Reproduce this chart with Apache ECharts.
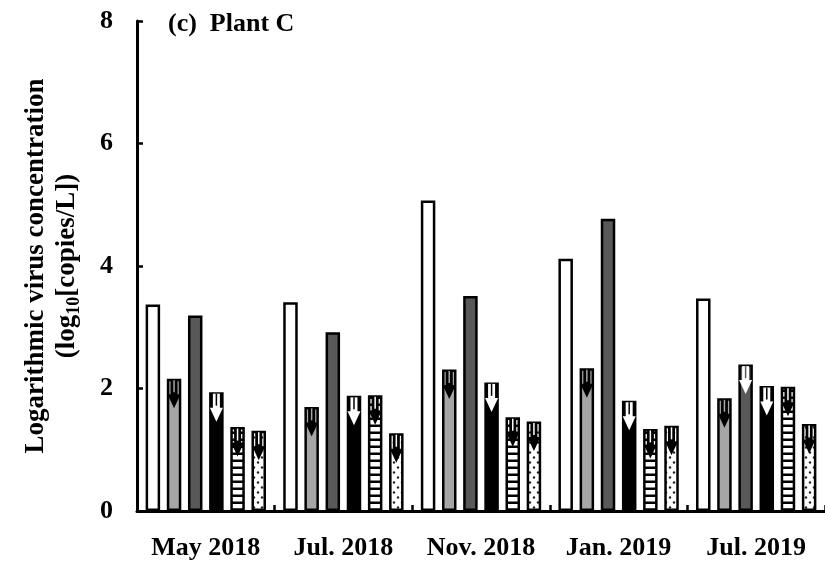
<!DOCTYPE html>
<html>
<head>
<meta charset="utf-8">
<script src="https://cdn.jsdelivr.net/npm/echarts@6/dist/echarts.min.js"></script>
<style>
  html, body { margin: 0; padding: 0; background: #fff; }
  #chart { width: 825px; height: 563px; }
</style>
</head>
<body>
<div id="chart"></div>
<script>
// Sampling campaigns
const categories = ['May 2018', 'Jul. 2018', 'Nov. 2018', 'Jan. 2019', 'Jul. 2019'];
const yTicks = [0, 2, 4, 6, 8];

// log10 virus concentration per bar fill
const openBars      = [3.37, 3.41, 5.07, 4.12, 3.47];
const lightGrayBars = [2.16, 1.70, 2.31, 2.33, 1.84];
const darkGrayBars  = [3.19, 2.92, 3.51, 4.77, 2.39];
const blackBars     = [1.94, 1.88, 2.10, 1.80, 2.04];
const stripedBars   = [1.37, 1.89, 1.53, 1.34, 2.03];
const dottedBars    = [1.31, 1.27, 1.46, 1.39, 1.42];

// 1 = below detection limit (bar shows the limit, marked with a down arrow)
const openLimit      = [0, 0, 0, 0, 0];
const lightGrayLimit = [1, 1, 1, 1, 1];
const darkGrayLimit  = [0, 0, 0, 0, 1];
const blackLimit     = [1, 1, 1, 1, 1];
const stripedLimit   = [1, 1, 1, 1, 1];
const dottedLimit    = [1, 1, 1, 1, 1];

const FONT = '"Liberation Serif", "Times New Roman", serif';
const BAR_W = 14.5;
const BAR_GAP = 0.46;
const PITCH = BAR_W * (1 + BAR_GAP);

function stripePattern() {
  const c = document.createElement('canvas');
  c.width = 8; c.height = 7;
  const g = c.getContext('2d');
  g.fillStyle = '#fff'; g.fillRect(0, 0, 8, 7);
  g.fillStyle = '#000'; g.fillRect(0, 4.5, 8, 2.5);
  return c;
}
function dotPattern() {
  const c = document.createElement('canvas');
  c.width = 8; c.height = 10;
  const g = c.getContext('2d');
  g.fillStyle = '#fff'; g.fillRect(0, 0, 8, 10);
  g.fillStyle = '#222';
  g.beginPath(); g.arc(2, 2.5, 1.2, 0, Math.PI * 2); g.fill();
  g.beginPath(); g.arc(6, 7.5, 1.2, 0, Math.PI * 2); g.fill();
  return c;
}

function barSeries(values, fill) {
  return {
    type: 'bar',
    data: values,
    barWidth: BAR_W,
    barGap: (BAR_GAP * 100) + '%',
    itemStyle: { color: fill, borderColor: '#000', borderWidth: 2.5 },
    emphasis: { disabled: true },
    z: 2
  };
}

// Down arrow drawn inside the top of a bar in the given slot of the group
function arrowSeries(values, flags, slot, color, inner) {
  return {
    type: 'custom',
    silent: true,
    z: 5,
    data: values.map((v, i) => flags[i] ? [i, v] : null).filter(Boolean),
    renderItem(params, api) {
      const p = api.coord([api.value(0), api.value(1)]);
      const cx = p[0] + (slot - 2.5) * PITCH;
      const top = p[1] + 1.5;
      const shaftW = 7, headW = 13, shaftH = 14, headH = 14;
      return {
        type: 'group',
        children: [
          { type: 'rect', shape: { x: cx - shaftW / 2, y: top, width: shaftW, height: shaftH + 1 }, style: { fill: color } },
          { type: 'rect', shape: { x: cx - 0.75, y: top, width: 1.5, height: shaftH - 2 }, style: { fill: inner } },
          { type: 'polygon', shape: { points: [[cx - headW / 2, top + shaftH], [cx + headW / 2, top + shaftH], [cx, top + shaftH + headH]] }, style: { fill: color } }
        ]
      };
    }
  };
}

const chart = echarts.init(document.getElementById('chart'), null, { renderer: 'canvas' });

const option = {
  animation: false,
  backgroundColor: '#fff',
  title: {
    text: '(c)  Plant C',
    left: 163,
    top: 6,
    textStyle: { fontFamily: FONT, fontWeight: 'bold', fontSize: 26, color: '#000' }
  },
  grid: { left: 137, right: -6, top: 21, bottom: 52, containLabel: false },
  xAxis: {
    type: 'category',
    data: categories,
    axisLine: { show: true, lineStyle: { color: '#000', width: 3 } },
    axisTick: { show: true, inside: true, length: 6, lineStyle: { color: '#000', width: 2.5 } },
    axisLabel: { interval: 0, hideOverlap: false, fontFamily: FONT, fontWeight: 'bold', fontSize: 26, color: '#000', margin: 24 },
    splitLine: { show: false }
  },
  yAxis: {
    type: 'value',
    min: yTicks[0],
    max: yTicks[yTicks.length - 1],
    interval: yTicks[1] - yTicks[0],
    axisLine: { show: true, lineStyle: { color: '#000', width: 3 } },
    axisTick: { show: true, inside: true, length: 6, lineStyle: { color: '#000', width: 2.5 } },
    axisLabel: { fontFamily: FONT, fontWeight: 'bold', fontSize: 26, color: '#000', margin: 24 },
    splitLine: { show: false },
    name: '{a|Logarithmic virus concentration}\n{a|(log}{s|10}{a|[copies/L])}',
    nameLocation: 'middle',
    nameRotate: 90,
    nameGap: 54,
    nameTextStyle: {
      color: '#000',
      rich: {
        a: { fontFamily: FONT, fontWeight: 'bold', fontSize: 27, lineHeight: 31, color: '#000' },
        s: { fontFamily: FONT, fontWeight: 'bold', fontSize: 18, lineHeight: 18, verticalAlign: 'bottom', color: '#000' }
      }
    }
  },
  series: [
    barSeries(openBars, '#ffffff'),
    barSeries(lightGrayBars, '#a6a6a6'),
    barSeries(darkGrayBars, '#595959'),
    barSeries(blackBars, '#000000'),
    barSeries(stripedBars, { image: stripePattern(), repeat: 'repeat' }),
    barSeries(dottedBars, { image: dotPattern(), repeat: 'repeat' }),
    arrowSeries(openBars, openLimit, 0, '#000', '#fff'),
    arrowSeries(lightGrayBars, lightGrayLimit, 1, '#000', '#a6a6a6'),
    arrowSeries(darkGrayBars, darkGrayLimit, 2, '#fff', '#595959'),
    arrowSeries(blackBars, blackLimit, 3, '#fff', '#000'),
    arrowSeries(stripedBars, stripedLimit, 4, '#000', '#fff'),
    arrowSeries(dottedBars, dottedLimit, 5, '#000', '#fff')
  ]
};

chart.setOption(option);
</script>
</body>
</html>
